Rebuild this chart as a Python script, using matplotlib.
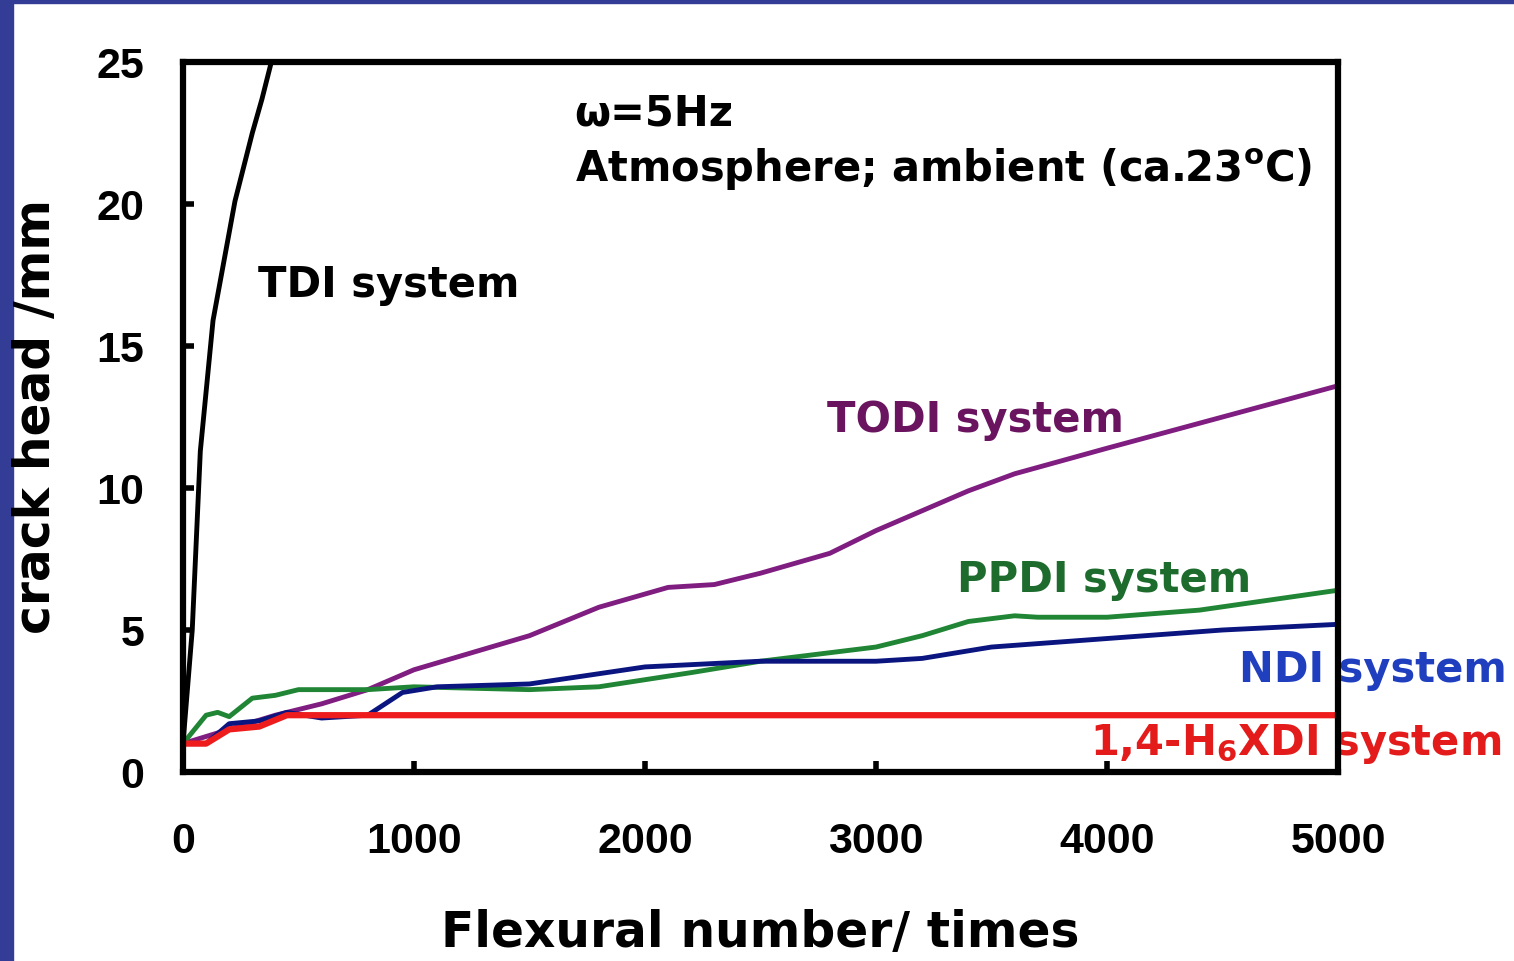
import matplotlib
matplotlib.use("Agg")
from matplotlib import pyplot as plt
from matplotlib.patches import Rectangle

# crack growth vs flexural number
tdi_x = [0, 40, 75, 130, 225, 300, 342, 398]
tdi_y = [1.0, 5.0, 11.3, 15.9, 20.1, 22.5, 23.7, 25.5]

h6xdi_x = [0, 100, 200, 330, 450, 600, 5000]
h6xdi_y = [1.0, 1.0, 1.5, 1.6, 2.0, 2.0, 2.0]

ndi_x = [0, 100, 200, 330, 450, 600, 800, 950, 1100, 1500, 2000, 2500, 3000, 3200, 3500, 4000, 4500, 5000]
ndi_y = [1.0, 1.0, 1.7, 1.8, 2.1, 1.9, 2.0, 2.8, 3.0, 3.1, 3.7, 3.9, 3.9, 4.0, 4.4, 4.7, 5.0, 5.2]

ppdi_x = [0, 100, 150, 200, 300, 400, 500, 800, 1000, 1500, 1800, 2200, 2500, 3000, 3200, 3400, 3600, 3700, 4000, 4400, 5000]
ppdi_y = [1.0, 2.0, 2.1, 1.95, 2.6, 2.7, 2.9, 2.9, 3.0, 2.9, 3.0, 3.5, 3.9, 4.4, 4.8, 5.3, 5.5, 5.45, 5.45, 5.7, 6.4]

todi_x = [0, 200, 400, 600, 800, 1000, 1500, 1800, 2100, 2300, 2500, 2800, 3000, 3400, 3600, 4000, 4500, 5000]
todi_y = [1.0, 1.5, 2.0, 2.4, 2.9, 3.6, 4.8, 5.8, 6.5, 6.6, 7.0, 7.7, 8.5, 9.9, 10.5, 11.4, 12.5, 13.6]

x_ticks = [0, 1000, 2000, 3000, 4000, 5000]
y_ticks = [0, 5, 10, 15, 20, 25]

plt.rcParams['mathtext.default'] = 'regular'

fig = plt.figure(figsize=(15.14, 9.61), dpi=100)
fig.patch.set_facecolor('white')
# slide background strips
fig.add_artist(Rectangle((0, 0), 13 / 1514, 1, transform=fig.transFigure, color='#333d95', zorder=0))
fig.add_artist(Rectangle((0, 1 - 3 / 961), 1, 3 / 961, transform=fig.transFigure, color='#333d95', zorder=0))

ax = fig.add_axes([183 / 1514, 1 - 772 / 961, 1155 / 1514, 710 / 961])

ax.plot(tdi_x, tdi_y, color='black', lw=3.5)
ax.plot(todi_x, todi_y, color='#7f1d80', lw=3.5)
ax.plot(ppdi_x, ppdi_y, color='#208535', lw=3.5)
ax.plot(ndi_x, ndi_y, color='#0a1580', lw=3.5)
ax.plot(h6xdi_x, h6xdi_y, color='#ee1c1c', lw=4.5)

ax.set_xlim(0, 5000)
ax.set_ylim(0, 25)
ax.set_xticks(x_ticks)
ax.set_yticks(y_ticks)
ax.tick_params(direction='in', length=8, width=4, labelsize=31)
ax.tick_params(axis='x', pad=36)
ax.tick_params(axis='y', pad=28)
for lab in ax.get_xticklabels() + ax.get_yticklabels():
    lab.set_fontweight('bold')
    lab.set_family('Liberation Sans')
for sp in ax.spines.values():
    sp.set_linewidth(4.5)
    sp.set_zorder(5)

ax.set_xlabel('Flexural number/ times', fontsize=35, fontweight='bold', labelpad=34)
ax.set_ylabel('crack head /mm', fontsize=35, fontweight='bold', labelpad=26)

fs = 30
ax.text(0.339, 0.927, 'ω=5Hz', transform=ax.transAxes, fontsize=fs, fontweight='bold', va='center')
ax.text(0.339, 0.849, 'Atmosphere; ambient (ca.23$^o$C)', transform=ax.transAxes, fontsize=fs,
        fontweight='bold', va='center')
ax.text(0.065, 0.686, 'TDI system', transform=ax.transAxes, fontsize=fs, fontweight='bold', va='center')
ax.text(0.558, 0.496, 'TODI system', transform=ax.transAxes, fontsize=fs, fontweight='bold',
        va='center', color='#6a145f')
ax.text(0.670, 0.270, 'PPDI system', transform=ax.transAxes, fontsize=fs, fontweight='bold',
        va='center', color='#1d6b2d')
ax.text(0.914, 0.143, 'NDI system', transform=ax.transAxes, fontsize=fs, fontweight='bold',
        va='center', color='#1f3fbf', clip_on=False, zorder=3)
ax.text(0.785, 0.040, '1,4-H$_6$XDI system', transform=ax.transAxes, fontsize=fs, fontweight='bold',
        va='center', color='#e31b1b', clip_on=False, zorder=3)

plt.savefig('out.png', dpi=100)
